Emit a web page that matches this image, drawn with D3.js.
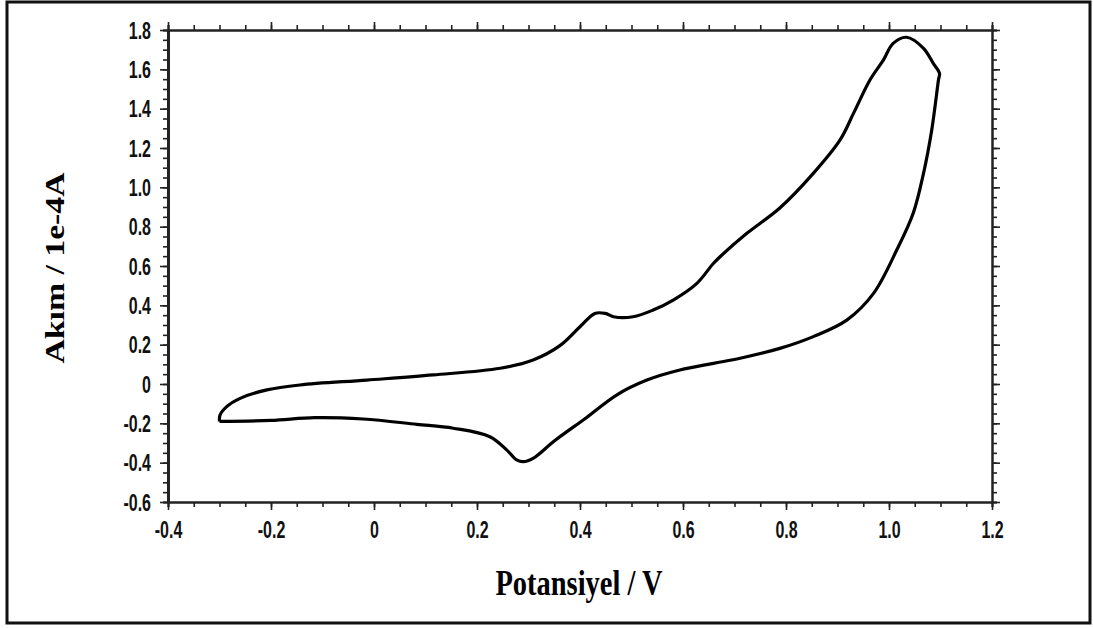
<!DOCTYPE html>
<html>
<head>
<meta charset="utf-8">
<title>Akim - Potansiyel</title>
<script src="https://cdn.jsdelivr.net/npm/d3@7"></script>
<style>
  body { margin: 0; background: #fff; }
  .tick text { font-family: "Liberation Sans", Arial, sans-serif; font-weight: bold; font-size: 16px; fill: #111; }
  .tick line, .domain { stroke: #222; }
</style>
</head>
<body>
<svg id="viz"></svg>
<script>
// sweep: -0.3 V -> 1.1 V (upper branch) and back (lower branch)
var potential = [
  -0.300, -0.299, -0.286, -0.260, -0.208, -0.144, -0.014, 0.115, 0.245, 0.309,
  0.361, 0.400, 0.429, 0.449, 0.465, 0.503, 0.542, 0.581, 0.627, 0.658, 0.672,
  0.724, 0.788, 0.853, 0.905, 0.931, 0.963, 0.989, 1.008, 1.034, 1.067, 1.086, 1.098,
  1.096, 1.083, 1.067, 1.047, 1.015, 0.970, 0.918, 0.853, 0.788, 0.711, 0.659,
  0.594, 0.530, 0.471, 0.413, 0.350, 0.309, 0.290, 0.277, 0.258, 0.225, 0.154,
  0.083, -0.021, -0.115, -0.200, -0.300
];
var current = [
  -0.190, -0.158, -0.115, -0.073, -0.030, -0.005, 0.020, 0.046, 0.080, 0.122,
  0.195, 0.291, 0.359, 0.359, 0.342, 0.342, 0.376, 0.427, 0.512, 0.610, 0.647,
  0.766, 0.895, 1.071, 1.241, 1.376, 1.546, 1.647, 1.732, 1.763, 1.707, 1.630, 1.580,
  1.546, 1.292, 1.071, 0.868, 0.681, 0.461, 0.325, 0.241, 0.181, 0.131, 0.105,
  0.071, 0.020, -0.056, -0.170, -0.290, -0.378, -0.395, -0.386, -0.336, -0.268, -0.225,
  -0.205, -0.178, -0.171, -0.185, -0.190
];

var xTicks = [-0.4, -0.2, 0, 0.2, 0.4, 0.6, 0.8, 1.0, 1.2];
var yTicks = [-0.6, -0.4, -0.2, 0, 0.2, 0.4, 0.6, 0.8, 1.0, 1.2, 1.4, 1.6, 1.8];
var xMinor = d3.range(-40, 121, 5).map(function(d) { return d / 100; });
var yMinor = d3.range(-60, 181, 5).map(function(d) { return d / 100; });

var xTitle = "Potansiyel / V";
var yTitle = "Akım / 1e-4A";

var width = 1093, height = 628;
var plotLeft = 168, plotRight = 992, plotTop = 30, plotBottom = 502;

var svg = d3.select("#viz").attr("width", width).attr("height", height);

// outer frame
svg.append("rect")
  .attr("x", 7).attr("y", 2)
  .attr("width", 1083).attr("height", 621)
  .attr("fill", "none").attr("stroke", "#111").attr("stroke-width", 3);

var x = d3.scaleLinear().domain([-0.4, 1.2]).range([plotLeft, plotRight]);
var y = d3.scaleLinear().domain([-0.6, 1.8]).range([plotBottom, plotTop]);

function fmt(d) {
  return d === 0 ? "0" : d3.format(".1f")(d).replace("\u2212", "-");
}

// minor ticks
svg.append("g").attr("transform", "translate(0," + plotBottom + ")")
  .call(d3.axisBottom(x).tickValues(xMinor).tickSize(5).tickFormat(""));
svg.append("g").attr("transform", "translate(0," + plotTop + ")")
  .call(d3.axisTop(x).tickValues(xMinor).tickSize(5).tickFormat(""));
svg.append("g").attr("transform", "translate(" + plotLeft + ",0)")
  .call(d3.axisLeft(y).tickValues(yMinor).tickSize(5).tickFormat(""));
svg.append("g").attr("transform", "translate(" + plotRight + ",0)")
  .call(d3.axisRight(y).tickValues(yMinor).tickSize(5).tickFormat(""));

// major ticks
var gx = svg.append("g").attr("transform", "translate(0," + plotBottom + ")")
  .call(d3.axisBottom(x).tickValues(xTicks).tickSize(8).tickSizeOuter(0).tickFormat(fmt));
svg.append("g").attr("transform", "translate(0," + plotTop + ")")
  .call(d3.axisTop(x).tickValues(xTicks).tickSize(8).tickSizeOuter(0).tickFormat(""));
var gy = svg.append("g").attr("transform", "translate(" + plotLeft + ",0)")
  .call(d3.axisLeft(y).tickValues(yTicks).tickSize(8).tickSizeOuter(0).tickFormat(fmt));
svg.append("g").attr("transform", "translate(" + plotRight + ",0)")
  .call(d3.axisRight(y).tickValues(yTicks).tickSize(8).tickSizeOuter(0).tickFormat(""));

svg.selectAll(".tick line").attr("stroke-width", 1.6);
svg.selectAll(".domain").attr("stroke-width", 2);
gy.select(".domain").attr("stroke-width", 3);

// text in the reference is stretched vertically
gx.selectAll(".tick text")
  .attr("y", null).attr("dy", "0.35em")
  .attr("transform", "translate(0,28) scale(1,1.45)");
gy.selectAll(".tick text")
  .attr("x", null).attr("dy", "0.35em")
  .attr("transform", "translate(-17,0) scale(1,1.45)");

// curve
var line = d3.line()
  .x(function(d, i) { return x(potential[i]); })
  .y(function(d, i) { return y(current[i]); })
  .curve(d3.curveCatmullRom.alpha(0.5));

svg.append("path")
  .datum(potential)
  .attr("d", line)
  .attr("fill", "none")
  .attr("stroke", "#000")
  .attr("stroke-width", 3.2)
  .attr("stroke-linejoin", "round");

// titles
svg.append("text")
  .attr("transform", "translate(579,595) scale(1,1.22)")
  .attr("text-anchor", "middle")
  .style("font-family", "'Liberation Serif', 'Times New Roman', serif")
  .style("font-weight", "bold")
  .style("font-size", "28.5px")
  .text(xTitle);

svg.append("text")
  .attr("transform", "translate(55,268) scale(1,1.25) rotate(-90)")
  .attr("text-anchor", "middle")
  .attr("dy", "0.35em")
  .style("font-family", "'Liberation Serif', 'Times New Roman', serif")
  .style("font-weight", "bold")
  .style("font-size", "27px")
  .text(yTitle);
</script>
</body>
</html>
